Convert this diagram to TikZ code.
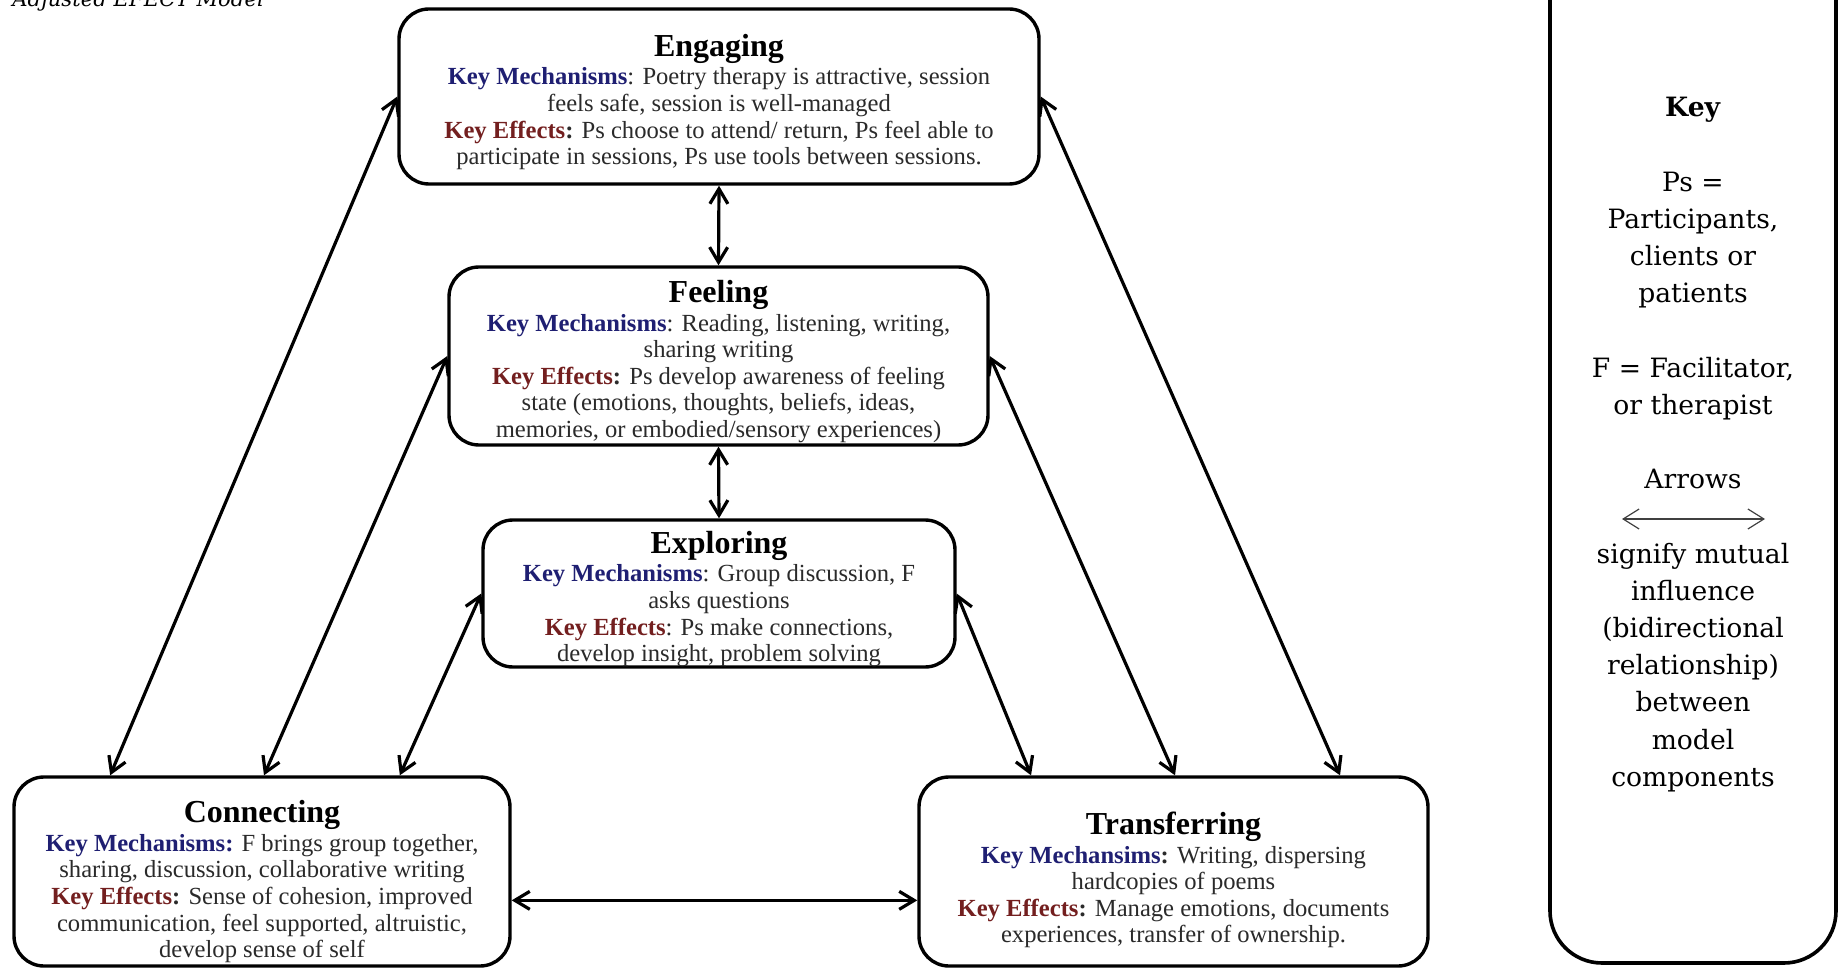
\documentclass[tikz,border=0pt]{standalone}
\usepackage{fontspec}
\setmainfont{Liberation Serif}
\newfontfamily\keyfont{DejaVu Serif}
\usetikzlibrary{arrows.meta,calc}

\definecolor{mechblue}{HTML}{1F1F72}
\definecolor{effred}{HTML}{731F1F}
\definecolor{bodygray}{HTML}{2A2A2A}

\newcommand{\mech}[1]{\textcolor{mechblue}{\textbf{#1}}}
\newcommand{\eff}[1]{\textcolor{effred}{\textbf{#1}}}
\newcommand{\stagetitle}[1]{{\fontsize{16}{16}\selectfont\bfseries\color{black}#1}\\[1pt]}

\begin{document}
\begin{tikzpicture}[x=0.5pt,y=-0.5pt,
  stagebox/.style={draw=black, line width=1.7pt, rounded corners=15pt, fill=white,
    inner sep=0pt},
  stagetext/.style={align=center, inner sep=0pt, text=bodygray,
    font=\fontsize{12.3}{13.3}\selectfont},
  barb/.tip={Straight Barb[length=7.5pt,width=9pt,line width=1.6pt]},
  thinbarb/.tip={Straight Barb[length=8pt,width=10pt,line width=0.6pt]},
  link/.style={line width=1.6pt, barb-barb},
  keybox/.style={draw=black, line width=1.8pt, rounded corners=26pt},
  keytext/.style={align=center, inner sep=0pt,
    font=\keyfont\fontsize{13.3}{18.6}\selectfont},
  keyarrow/.style={draw=black!75, line width=0.6pt, thinbarb-thinbarb},
]
\useasboundingbox (0,0) rectangle (1838,968);
\clip (0,0) rectangle (1838,968);

% caption, partly above the page edge
\node[anchor=base west, inner sep=0pt, font=\keyfont\itshape\fontsize{10.6}{13}\selectfont]
  (caption) at (12,7) {Adjusted EFECT Model};

% the five model components: frames
\node[stagebox, minimum width=320pt, minimum height=87.5pt] (eng) at (719,96.5) {};
\node[stagebox, minimum width=269.5pt, minimum height=89pt] (fee) at (718.5,356) {};
\node[stagebox, minimum width=236pt, minimum height=73.5pt] (exp) at (719,593.5) {};
\node[stagebox, minimum width=248pt, minimum height=94.5pt] (con) at (262,871.5) {};
\node[stagebox, minimum width=254.5pt, minimum height=94.5pt] (tra) at (1173.5,871.5) {};

% the five model components: texts
\node[stagetext] (engtext) at ($(eng.center)+(0,5.6)$) {%
  \stagetitle{Engaging}
  \mech{Key Mechanisms}: Poetry therapy is attractive, session\\
  feels safe, session is well-managed\\
  \eff{Key Effects}\textbf{:} Ps choose to attend/ return, Ps feel able to\\
  participate in sessions, Ps use tools between sessions.};

\node[stagetext] (feetext) at ($(fee.center)+(0,5.6)$) {%
  \stagetitle{Feeling}
  \mech{Key Mechanisms}: Reading, listening, writing,\\
  sharing writing\\
  \eff{Key Effects}\textbf{:} Ps develop awareness of feeling\\
  state (emotions, thoughts, beliefs, ideas,\\
  memories, or embodied/sensory experiences)};

\node[stagetext] (exptext) at ($(exp.center)+(0,5.6)$) {%
  \stagetitle{Exploring}
  \mech{Key Mechanisms}: Group discussion, F\\
  asks questions\\
  \eff{Key Effects}: Ps make connections,\\
  develop insight, problem solving};

\node[stagetext] (context) at ($(con.center)+(0,10.3)$) {%
  \stagetitle{Connecting}
  \mech{Key Mechanisms:} F brings group together,\\
  sharing, discussion, collaborative writing\\
  \eff{Key Effects}\textbf{:} Sense of cohesion, improved\\
  communication, feel supported, altruistic,\\
  develop sense of self};

\node[stagetext] (tratext) at ($(tra.center)+(0,8.5)$) {%
  \stagetitle{Transferring}
  \mech{Key Mechansims}\textbf{:} Writing, dispersing\\
  hardcopies of poems\\
  \eff{Key Effects}\textbf{:} Manage emotions, documents\\
  experiences, transfer of ownership.};

% mutual influences
\draw[link] (eng.south) -- (fee.north);
\draw[link] (fee.south) -- (exp.north);
\draw[link] (eng.west) -- ($(con.north west)!0.196!(con.north east)$);
\draw[link] (fee.west) -- ($(con.north west)!0.504!(con.north east)$);
\draw[link] (exp.west) -- ($(con.north west)!0.776!(con.north east)$);
\draw[link] (eng.east) -- ($(tra.north west)!0.825!(tra.north east)$);
\draw[link] (fee.east) -- ($(tra.north west)!0.503!(tra.north east)$);
\draw[link] (exp.east) -- ($(tra.north west)!0.222!(tra.north east)$);
\coordinate (h1) at ($(con.north east)!0.65!(con.south east)$);
\draw[link] (h1) -- (h1 -| tra.west);

% key
\node[keybox, minimum width=143pt, minimum height=526.5pt] (key) at (1693,436.5) {};
\node[keytext, anchor=north] (keylines) at (1693,97) {%
  \textbf{Key}\\
  \mbox{}\\
  Ps =\\
  Participants,\\
  clients or\\
  patients\\
  \mbox{}\\
  F = Facilitator,\\
  or therapist\\
  \mbox{}\\
  Arrows\\
  \mbox{}\\
  signify mutual\\
  influence\\
  (bidirectional\\
  relationship)\\
  between\\
  model\\
  components};
\coordinate (ka1) at (1622,519);
\coordinate (ka2) at (1765,519);
\draw[keyarrow] (ka1) -- (ka2);
\end{tikzpicture}
\end{document}
